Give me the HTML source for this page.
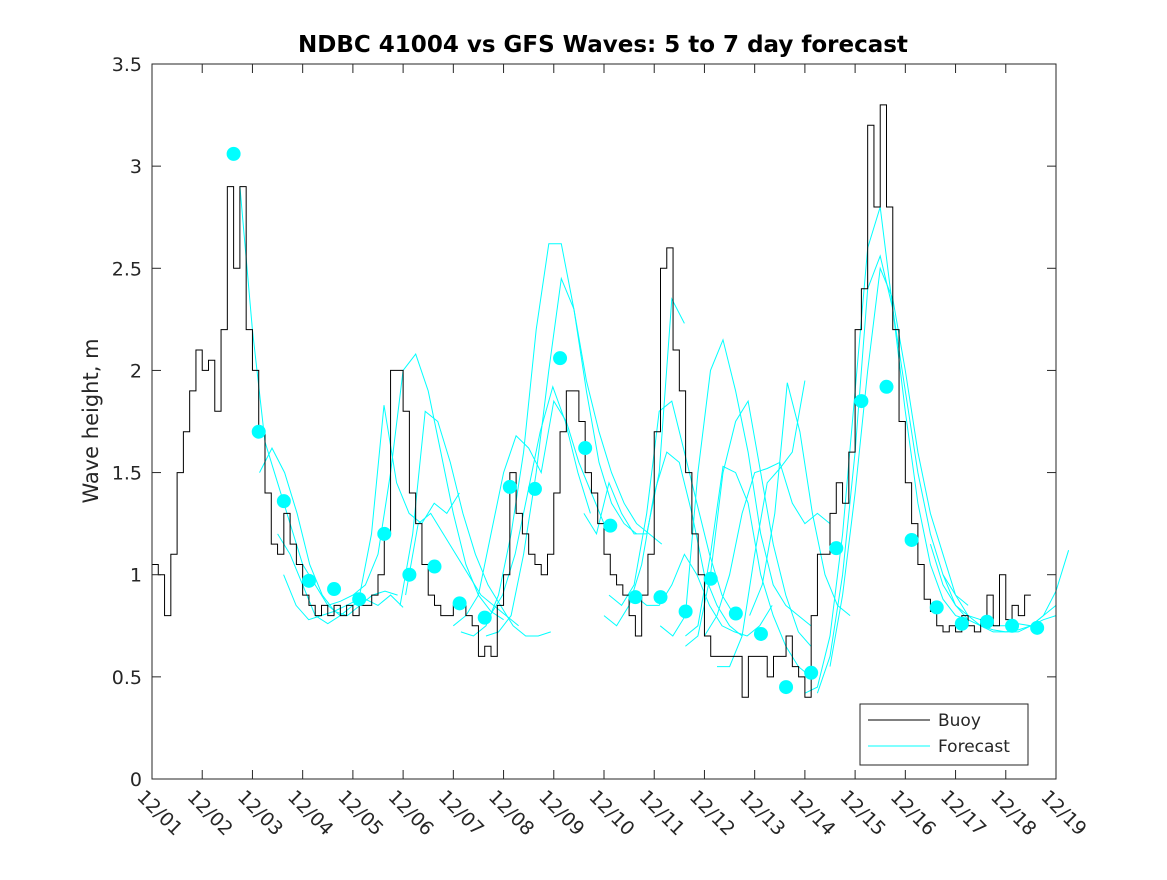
<!DOCTYPE html>
<html><head><meta charset="utf-8"><style>
body{margin:0;background:#fff}
svg text{font-family:"DejaVu Sans","Liberation Sans",sans-serif;fill:#262626}
</style></head><body>
<svg width="1167" height="875" viewBox="0 0 1167 875">
<rect width="1167" height="875" fill="#fff"/>
<text x="603" y="52" text-anchor="middle" font-size="23" font-weight="bold" style="fill:#000">NDBC 41004 vs GFS Waves: 5 to 7 day forecast</text>
<text transform="translate(98,421) rotate(-90)" text-anchor="middle" font-size="21">Wave height, m</text>
<g id="forecasts"></g>
<g id="buoy"></g>
<g id="dots"></g>
<rect x="152" y="64" width="904" height="715" fill="none" stroke="#262626" stroke-width="1"/>
<g id="axes"></g>
<g>
<rect x="860" y="704" width="168" height="61" fill="#fff" stroke="#262626"/>
<line x1="868" y1="720" x2="930" y2="720" stroke="#000"/>
<text x="938" y="726" font-size="17">Buoy</text>
<line x1="868" y1="746" x2="930" y2="746" stroke="#00ffff"/>
<text x="938" y="752" font-size="17">Forecast</text>
</g>
</svg>
<script>
const xTickLabels=["12/01","12/02","12/03","12/04","12/05","12/06","12/07","12/08","12/09","12/10","12/11","12/12","12/13","12/14","12/15","12/16","12/17","12/18","12/19"];
const yTickValues=[0,0.5,1,1.5,2,2.5,3,3.5];
const yTickLabels=["0","0.5","1","1.5","2","2.5","3","3.5"];
const buoyStart=0, buoyStep=0.125;
const buoyValues=[1.05,1.0,0.8,1.1,1.5,1.7,1.9,2.1,2.0,2.05,1.8,2.2,2.9,2.5,2.9,2.2,2.0,1.7,1.4,1.15,1.1,1.3,1.15,1.05,0.9,0.85,
0.8,0.85,0.8,0.85,0.8,0.85,0.8,0.85,0.85,0.9,1.0,1.2,2.0,2.0,1.8,1.4,1.25,1.05,0.9,0.85,0.8,
0.8,0.85,0.85,0.8,0.75,0.6,0.65,0.6,0.85,1.0,1.5,1.3,1.2,1.1,1.05,1.0,1.1,1.4,1.7,1.9,1.9,1.75,1.5,1.4,1.25,1.1,1.0,0.95,0.9,0.8,0.7,0.9,1.1,1.7,2.5,2.6,2.1,1.9,1.5,1.2,1.0,0.7,0.6,
0.6,0.6,0.6,0.6,0.4,0.6,0.6,0.6,0.5,0.6,0.6,0.7,0.55,0.5,0.4,0.8,1.1,1.1,1.3,1.45,1.35,1.6,2.2,2.4,3.2,2.8,3.3,2.8,2.2,1.75,1.45,1.25,1.05,0.88,0.82,0.75,0.72,
0.75,0.72,0.8,0.75,0.72,0.78,0.9,0.75,1.0,0.78,0.85,0.8,0.9];
const dotStart=1.625, dotStep=0.5;
const dotValues=[3.06,1.70,1.36,0.97,0.93,0.88,1.20,1.00,1.04,0.86,0.79,1.43,1.42,2.06,1.62,1.24,0.89,0.89,0.82,0.98,0.81,0.71,0.45,0.52,1.13,1.85,1.92,1.17,0.84,0.76,0.77,0.75,0.74];
const fcStep=0.25;
const fcStarts=[1.75,2.14,2.5,2.62,3.5,4.94,5.05,6.15,6.65,6.0,6.73,8.6,9.1,9.0,9.6,10.12,10.62,10.62,11.9,11.25,11.0,13.0,13.25,13.5,15.5,15.75,16.0];
const fcValues=[
[2.9,2.2,1.65,1.45,1.25,1.05,0.95,0.85,0.8],
[1.5,1.62,1.5,1.3,1.05,0.9,0.82,0.8,0.85,0.9,0.92,0.9],
[1.2,1.1,0.95,0.8,0.76,0.8,0.85,0.88,0.85,0.9,0.84],
[1.0,0.85,0.78,0.8,0.82,0.85,0.88,1.2,1.83,1.45,1.3,1.25,1.35,1.3,1.4],
[0.85,0.87,0.9,0.95,1.1,1.5,2.0,2.08,1.9,1.6,1.3,1.05,0.9,0.82,0.78],
[0.85,1.2,1.8,1.75,1.55,1.3,1.1,0.95,0.85,0.75,0.7,0.7,0.72],
[0.9,1.25,1.3,1.2,1.1,1.0,0.9,0.85,0.8,0.75],
[0.72,0.7,0.75,0.9,1.2,1.6,2.2,2.62,2.62,2.3,1.9,1.55,1.35,1.25,1.2],
[0.7,0.72,0.8,1.1,1.5,2.0,2.45,2.3,1.95,1.7,1.5,1.35,1.25,1.2,1.15],
[0.75,0.8,0.9,1.2,1.5,1.68,1.62,1.5,1.85,1.75,1.55,1.4,1.25],
[0.8,0.9,1.1,1.4,1.7,1.92,1.75,1.5,1.3],
[1.3,1.2,1.45,1.3,1.2,1.2,1.5,2.35,2.23],
[0.9,0.85,0.95,1.3,1.8,1.85,1.6,1.35,1.1,0.9,0.8],
[0.8,0.75,0.85,1.05,1.4,1.6,1.55,1.3,1.0,0.85,0.75,0.7],
[0.9,0.85,0.85,0.95,1.1,1.0,0.85,0.75,0.72,0.7,0.75,0.85],
[0.75,0.7,0.8,1.5,2.0,2.15,1.9,1.6,1.2,0.95,0.85,0.8,0.75],
[0.65,0.7,1.0,1.5,1.75,1.85,1.5,1.15,0.9,0.72,0.65],
[0.7,0.75,1.1,1.53,1.5,1.35,1.0,0.8,0.65,0.55,0.5],
[0.8,0.95,1.3,1.94,1.7,1.3,1.0,0.85,0.8],
[0.55,0.55,0.7,1.1,1.45,1.52,1.6,1.95],
[0.7,0.8,1.0,1.3,1.5,1.52,1.55,1.35,1.25,1.3,1.25],
[0.42,0.45,0.7,1.2,1.9,2.6,2.8,2.3,1.8,1.35,1.05,0.88,0.8,0.78],
[0.42,0.6,1.0,1.6,2.4,2.56,2.3,1.9,1.5,1.2,1.0,0.9,0.85],
[0.55,0.9,1.4,2.0,2.5,2.35,2.0,1.6,1.3,1.1,0.9],
[1.15,0.95,0.85,0.8,0.78,0.75,0.75,0.76,0.75,0.8,0.85],
[1.0,0.85,0.78,0.75,0.73,0.72,0.72,0.75,0.78,0.8],
[0.9,0.8,0.75,0.72,0.72,0.73,0.75,0.8,0.92,1.12]
];
const NS="http://www.w3.org/2000/svg";
const X0=152,X1=1056,Y0=779,Y1=64,DAYS=18,YMAX=3.5;
function xs(d){return X0+(X1-X0)*d/DAYS;}
function ys(v){return Y0-(Y0-Y1)*v/YMAX;}
function mk(tag,attrs,parent){const e=document.createElementNS(NS,tag);for(const k in attrs)e.setAttribute(k,attrs[k]);parent.appendChild(e);return e;}
const axes=document.getElementById('axes');
xTickLabels.forEach((lab,i)=>{
  const x=xs(i);
  const t1=mk('line',{x1:x,y1:Y0,x2:x,y2:Y0-9,stroke:'#262626'},axes);
  
  
  const t2=mk('line',{x1:x,y1:Y1,x2:x,y2:Y1+9,stroke:'#262626'},axes);
  
  
  const tx=mk('text',{transform:`translate(${x-16},${Y0+19}) rotate(45)`,'font-size':19},axes);
  tx.textContent=lab;
  
  
});
yTickValues.forEach((v,i)=>{
  const y=ys(v);
  const t1=mk('line',{x1:X0,y1:y,x2:X0+9,y2:y,stroke:'#262626'},axes);
  
  
  const t2=mk('line',{x1:X1,y1:y,x2:X1-9,y2:y,stroke:'#262626'},axes);
  
  
  const tx=mk('text',{x:X0-10,y:y+7,'text-anchor':'end','font-size':19},axes);
  tx.textContent=yTickLabels[i];
  
  
});
const fg=document.getElementById('forecasts');
fcValues.forEach((vals,k)=>{
  const pts=vals.map((v,j)=>xs(fcStarts[k]+j*fcStep).toFixed(1)+','+ys(v).toFixed(1)).join(' ');
  const p=mk('polyline',{points:pts,fill:'none',stroke:'#00ffff','stroke-width':1},fg);
  
  
});
const bg=document.getElementById('buoy');
let d='';
buoyValues.forEach((v,i)=>{
  const x=xs(buoyStart+i*buoyStep), y=ys(v);
  if(i===0) d+=`M${x},${y}`; else d+=`V${y}`;
  d+=`H${xs(buoyStart+(i+1)*buoyStep)}`;
});
const bp=mk('path',{d:d,fill:'none',stroke:'#000','stroke-width':1},bg);


const dg=document.getElementById('dots');
dotValues.forEach((v,i)=>{
  const c=mk('circle',{cx:xs(dotStart+i*dotStep),cy:ys(v),r:7,fill:'#00ffff'},dg);
  
  
});
</script>
</body></html>
